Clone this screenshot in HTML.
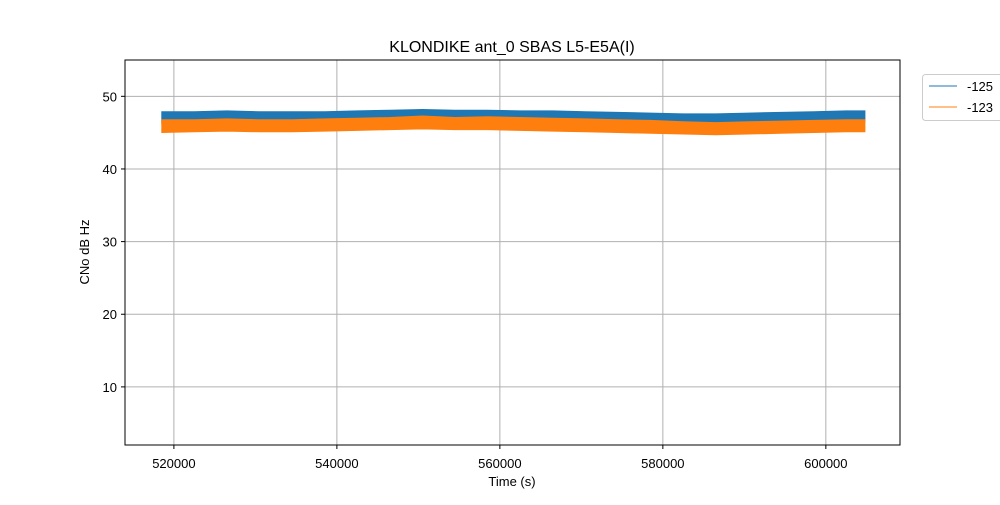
<!DOCTYPE html>
<html><head><meta charset="utf-8"><style>
body{margin:0;background:#fff;font-family:"Liberation Sans","DejaVu Sans",sans-serif;}
svg text{font-family:"Liberation Sans","DejaVu Sans",sans-serif;}
</style></head><body>
<svg id="chart" width="1000" height="500" xmlns="http://www.w3.org/2000/svg">
<rect width="1000" height="500" fill="#fff"/>
<text x="512" y="52" font-size="16" text-anchor="middle">KLONDIKE ant_0 SBAS L5-E5A(I)</text>
<g id="grid"></g>
<g id="series"></g>
<rect x="125" y="60" width="775" height="385" fill="none" stroke="#000" stroke-width="1"/>
<g id="ticks"></g>
<text x="512" y="486" font-size="13" text-anchor="middle">Time (s)</text>
<text x="89" y="252" font-size="13" text-anchor="middle" transform="rotate(-90 89 252)">CNo dB Hz</text>
<g>
<rect x="922.5" y="74.5" width="85" height="46" rx="3" fill="#fff" stroke="#ccc"/>
<line x1="929" y1="86" x2="957" y2="86" stroke="#1f77b4" stroke-width="1"/>
<text x="967" y="91" font-size="13">-125</text>
<line x1="929" y1="107" x2="957" y2="107" stroke="#ff7f0e" stroke-width="1"/>
<text x="967" y="112" font-size="13">-123</text>
</g>
</svg>
<script>
const times = [518500,522500,526500,530500,534500,538500,542500,546500,550500,554500,558500,562500,566500,570500,574500,578500,582500,586500,590500,594500,598500,602500,604800];
const blueHigh = [47.9,47.9,48.0,47.9,47.9,47.9,48.0,48.1,48.2,48.1,48.1,48.0,48.0,47.9,47.8,47.7,47.6,47.6,47.7,47.8,47.9,48.0,48.0];
const blueLow  = [46.3,46.4,46.5,46.4,46.4,46.5,46.6,46.7,46.8,46.7,46.7,46.6,46.5,46.4,46.3,46.2,46.1,46.1,46.2,46.3,46.4,46.5,46.5];
const orangeHigh = [46.8,46.8,46.9,46.8,46.8,46.9,47.0,47.1,47.3,47.1,47.2,47.1,47.0,46.9,46.8,46.7,46.5,46.4,46.5,46.6,46.7,46.8,46.8];
const orangeLow  = [45.0,45.1,45.2,45.1,45.1,45.2,45.3,45.4,45.5,45.4,45.4,45.3,45.2,45.1,45.0,44.9,44.8,44.7,44.8,44.9,45.0,45.1,45.1];
const xTicks = [520000,540000,560000,580000,600000];
const yTicks = [10,20,30,40,50];
const X0=125,X1=900,Y0=60,Y1=445,xmin=514000,xmax=609100,ymin=2,ymax=55;
const xs=v=>X0+(v-xmin)/(xmax-xmin)*(X1-X0);
const ys=v=>Y1-(v-ymin)/(ymax-ymin)*(Y1-Y0);
const NS="http://www.w3.org/2000/svg";
const grid=document.getElementById('grid'),ticks=document.getElementById('ticks'),ser=document.getElementById('series');
function mk(tag,attrs,parent){const e=document.createElementNS(NS,tag);for(const k in attrs)e.setAttribute(k,attrs[k]);parent.appendChild(e);return e;}
xTicks.forEach(t=>{const x=xs(t);
 const g=mk('line',{x1:x,x2:x,y1:Y0,y2:Y1,stroke:'#b0b0b0','stroke-width':1},grid);
 
 
 const tk=mk('line',{x1:x,x2:x,y1:Y1,y2:Y1+4,stroke:'#000'},ticks);
 
 
 const tx=mk('text',{x:x,y:Y1+23,'font-size':13,'text-anchor':'middle'},ticks);tx.textContent=t;
 
 
});
yTicks.forEach(t=>{const y=ys(t);
 const g=mk('line',{x1:X0,x2:X1,y1:y,y2:y,stroke:'#b0b0b0','stroke-width':1},grid);
 
 
 const tk=mk('line',{x1:X0-4,x2:X0,y1:y,y2:y,stroke:'#000'},ticks);
 
 
 const tx=mk('text',{x:X0-8,y:y+5,'font-size':13,'text-anchor':'end'},ticks);tx.textContent=t;
 
 
});
function band(hi,lo,color,name){
 let d='';
 times.forEach((t,i)=>{d+=(i?'L':'M')+xs(t).toFixed(1)+','+ys(hi[i]).toFixed(1);});
 for(let i=times.length-1;i>=0;i--)d+='L'+xs(times[i]).toFixed(1)+','+ys(lo[i]).toFixed(1);
 const p=mk('path',{d:d+'Z',fill:color,stroke:color,'stroke-width':0.8},ser);
 
 
}
band(blueHigh,blueLow,'#1f77b4','series-125');
band(orangeHigh,orangeLow,'#ff7f0e','series-123');
</script>
</body></html>
